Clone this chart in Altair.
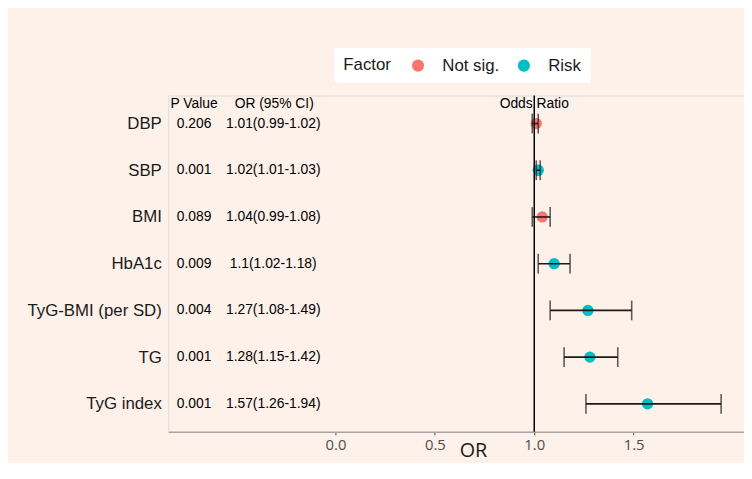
import altair as alt
import pandas as pd

factors = ["DBP", "SBP", "BMI", "HbA1c", "TyG-BMI (per SD)", "TG", "TyG index"]
odds = [1.01, 1.02, 1.04, 1.10, 1.27, 1.28, 1.57]
lower = [0.99, 1.01, 0.99, 1.02, 1.08, 1.15, 1.26]
upper = [1.02, 1.03, 1.08, 1.18, 1.49, 1.42, 1.94]
pvals = ["0.206", "0.001", "0.089", "0.009", "0.004", "0.001", "0.001"]
ci_text = ["1.01(0.99-1.02)", "1.02(1.01-1.03)", "1.04(0.99-1.08)", "1.1(1.02-1.18)",
           "1.27(1.08-1.49)", "1.28(1.15-1.42)", "1.57(1.26-1.94)"]
groups = ["Not sig.", "Risk", "Not sig.", "Risk", "Risk", "Risk", "Risk"]
group_levels = ["Not sig.", "Risk"]
group_colors = ["#F8766D", "#00BFC4"]
x_ticks = [0.0, 0.5, 1.0, 1.5]

df = pd.DataFrame({"factor": factors, "or": odds, "lo": lower, "hi": upper,
                   "p": pvals, "ci": ci_text, "Factor": groups})

xscale = alt.Scale(domain=[-0.841, 2.055], nice=False, zero=False)
yscale = alt.Scale(type="point", domain=factors, padding=0.6)

x_axis = alt.Axis(values=x_ticks, format=".1f", title="OR", grid=False,
                  domainColor="#a6a6a6", domainWidth=1.5, tickColor="#4d4d4d",
                  tickSize=3, labelFont="Open Sans", labelFontSize=15,
                  labelColor="#4d4d4d", labelPadding=3, titleFont="Open Sans",
                  titleFontSize=20, titleFontWeight="normal", titleColor="#1a1a1a",
                  titleX=308, titleY=29, titleBaseline="bottom", titleAlign="center")
y_axis = alt.Axis(title=None, ticks=False, domain=False, grid=False,
                  labelFontSize=17, labelColor="#1a1a1a", labelPadding=7,
                  labelFont="Liberation Sans")

base = alt.Chart(df)

points = base.mark_circle(size=130, opacity=1).encode(
    x=alt.X("or:Q", scale=xscale, axis=x_axis),
    y=alt.Y("factor:N", scale=yscale, axis=y_axis, sort=factors),
    color=alt.Color("Factor:N",
                    scale=alt.Scale(domain=group_levels, range=group_colors),
                    legend=alt.Legend(orient="none", legendX=168, legendY=-48,
                                      direction="horizontal", titleOrient="left",
                                      fillColor="white", padding=9,
                                      symbolType="circle", symbolSize=150,
                                      symbolStrokeWidth=0,
                                      labelFontSize=17, titleFontSize=17,
                                      titleFontWeight="normal", labelColor="#1a1a1a",
                                      titleColor="#1a1a1a", columnPadding=16,
                                      titlePadding=18, labelOffset=16,
                                      titleBaseline="middle",
                                      labelFont="Liberation Sans",
                                      titleFont="Liberation Sans")),
)

bars = base.mark_rule(color="#1a1a1a", strokeWidth=1.6).encode(
    x=alt.X("lo:Q", scale=xscale), x2="hi:Q",
    y=alt.Y("factor:N", scale=yscale, sort=factors),
)
cap_lo = base.mark_tick(orient="vertical", color="#1a1a1a", size=20, thickness=1.6).encode(
    x=alt.X("lo:Q", scale=xscale), y=alt.Y("factor:N", scale=yscale, sort=factors))
cap_hi = base.mark_tick(orient="vertical", color="#1a1a1a", size=20, thickness=1.6).encode(
    x=alt.X("hi:Q", scale=xscale), y=alt.Y("factor:N", scale=yscale, sort=factors))

ref = alt.Chart(pd.DataFrame({"ref": [1.0]})).mark_rule(color="black", strokeWidth=1.5).encode(
    x=alt.X("ref:Q", scale=xscale))

ptext = base.mark_text(fontSize=14, align="center", color="black").encode(
    x=alt.datum(-0.711), y=alt.Y("factor:N", scale=yscale, sort=factors), text="p:N")
citext = base.mark_text(fontSize=14, align="center", color="black").encode(
    x=alt.datum(-0.313), y=alt.Y("factor:N", scale=yscale, sort=factors), text="ci:N")

headers = alt.Chart(pd.DataFrame({"h": ["P Value", "OR (95% CI)", "Odds Ratio"],
                                  "hx": [-0.711, -0.308, 1.0]}))
htext = headers.mark_text(fontSize=14, align="center", color="black", dy=-20).encode(
    x=alt.X("hx:Q", scale=xscale), y=alt.datum(factors[0]), text="h:N")

chart = alt.layer(points, bars, cap_lo, cap_hi, ref, ptext, citext, htext).properties(
    width=582, height=340,
    autosize=alt.AutoSizeParams(type="none"),
    padding={"left": 162, "top": 86, "right": 0, "bottom": 29},
    background="#fdf1ea",
).configure_view(stroke="#a6a6a6", strokeWidth=1.3, fill="white").configure(
    font="Liberation Sans")

chart.save("out.html", embed_options={"renderer": "svg", "actions": False})
